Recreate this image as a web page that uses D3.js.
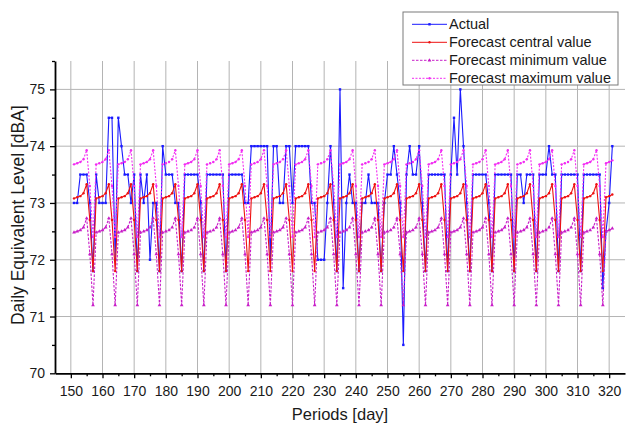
<!DOCTYPE html>
<html lang="en">
<head>
    <meta charset="UTF-8">
    <title></title>
    <style type="text/css">
        html, body { padding:0; margin:0; background:#fff; }
        text { font-family: "Liberation Sans", Arial, sans-serif; }
    </style>
</head>
<body>
<script src="https://cdn.jsdelivr.net/npm/d3@7"></script>
<script>
    // days 151..321
    var days = d3.range(151, 322);

    var xTicks = [150, 160, 170, 180, 190, 200, 210, 220, 230, 240, 250, 260, 270, 280, 290, 300, 310, 320];
    var xMinor = [155, 165, 175, 185, 195, 205, 215, 225, 235, 245, 255, 265, 275, 285, 295, 305, 315];
    var yTicks = [70, 71, 72, 73, 74, 75];
    var yMinor = [70.5, 71.5, 72.5, 73.5, 74.5, 75.5];

    var actual = [
        73, 73, 73.5, 73.5, 73.5, 73, 71.8,
        73.5, 73, 73, 73, 74.5, 74.5, 72,
        74.5, 74, 73.5, 73.5, 73, 73.5, 71.8,
        73.5, 73, 73.5, 72, 73, 73, 71.8,
        74, 73.5, 73.5, 73.5, 73, 73, 71.8,
        73.5, 73.5, 73.5, 73.5, 73.5, 73, 71.8,
        73.5, 73.5, 73.5, 73.5, 73.5, 73.5, 71.8,
        73.5, 73.5, 73.5, 73.5, 73.5, 73, 73,
        74, 74, 74, 74, 74, 74, 72,
        74, 74, 73, 73, 74, 74, 73,
        74, 74, 74, 74, 74, 73, 73,
        72, 72, 72, 73, 74, 73, 71.8,
        75, 71.5, 73, 73.5, 73, 73, 71.8,
        73, 73, 73.5, 73, 73, 73, 71.8,
        73, 73.5, 73.5, 74, 73.5, 73, 70.5,
        73.5, 74, 73.5, 73.5, 74, 73, 71.8,
        73.5, 73.5, 73.5, 73.5, 73.5, 73.5, 71.8,
        73.5, 74.5, 73.5, 75, 74, 73, 71.8,
        73.5, 73.5, 73.5, 73.5, 73.5, 73, 71.8,
        73.5, 73.5, 73.5, 73.5, 73.5, 73.5, 71.8,
        73.5, 73.5, 73, 73.5, 73.5, 73.5, 71.8,
        73.5, 73.5, 73.5, 74, 73.5, 73.5, 71.8,
        73.5, 73.5, 73.5, 73.5, 73.5, 73.5, 71.8,
        73.5, 73.5, 73.5, 73.5, 73.5, 73.5, 71.5,
        72.5, 73, 74
    ];

    var central = [
        73.08, 73.1, 73.12, 73.17, 73.33, 72.7, 71.8,
        73.08, 73.1, 73.12, 73.17, 73.33, 72.7, 71.8,
        73.08, 73.1, 73.12, 73.17, 73.33, 72.7, 71.8,
        73.08, 73.1, 73.12, 73.17, 73.33, 72.7, 71.8,
        73.08, 73.1, 73.12, 73.17, 73.33, 72.7, 71.8,
        73.08, 73.1, 73.12, 73.17, 73.33, 72.7, 71.8,
        73.08, 73.1, 73.12, 73.17, 73.33, 72.7, 71.8,
        73.08, 73.1, 73.12, 73.17, 73.33, 72.7, 71.8,
        73.08, 73.1, 73.12, 73.17, 73.33, 72.7, 71.8,
        73.08, 73.1, 73.12, 73.17, 73.33, 72.7, 71.8,
        73.08, 73.1, 73.12, 73.17, 73.33, 72.7, 71.8,
        73.08, 73.1, 73.12, 73.17, 73.33, 72.7, 71.8,
        73.08, 73.1, 73.12, 73.17, 73.33, 72.7, 71.8,
        73.08, 73.1, 73.12, 73.17, 73.33, 72.7, 71.8,
        73.08, 73.1, 73.12, 73.17, 73.33, 72.7, 71.8,
        73.08, 73.1, 73.12, 73.17, 73.33, 72.7, 71.8,
        73.08, 73.1, 73.12, 73.17, 73.33, 72.7, 71.8,
        73.08, 73.1, 73.12, 73.17, 73.33, 72.7, 71.8,
        73.08, 73.1, 73.12, 73.17, 73.33, 72.7, 71.8,
        73.08, 73.1, 73.12, 73.17, 73.33, 72.7, 71.8,
        73.08, 73.1, 73.12, 73.17, 73.33, 72.7, 71.8,
        73.08, 73.1, 73.12, 73.17, 73.33, 72.7, 71.8,
        73.08, 73.1, 73.12, 73.17, 73.33, 72.7, 71.8,
        73.08, 73.1, 73.12, 73.17, 73.33, 72.7, 71.8,
        73.1, 73.12, 73.15
    ];

    var minimum = [
        72.48, 72.5, 72.52, 72.57, 72.73, 72.1, 71.2,
        72.48, 72.5, 72.52, 72.57, 72.73, 72.1, 71.2,
        72.48, 72.5, 72.52, 72.57, 72.73, 72.1, 71.2,
        72.48, 72.5, 72.52, 72.57, 72.73, 72.1, 71.2,
        72.48, 72.5, 72.52, 72.57, 72.73, 72.1, 71.2,
        72.48, 72.5, 72.52, 72.57, 72.73, 72.1, 71.2,
        72.48, 72.5, 72.52, 72.57, 72.73, 72.1, 71.2,
        72.48, 72.5, 72.52, 72.57, 72.73, 72.1, 71.2,
        72.48, 72.5, 72.52, 72.57, 72.73, 72.1, 71.2,
        72.48, 72.5, 72.52, 72.57, 72.73, 72.1, 71.2,
        72.48, 72.5, 72.52, 72.57, 72.73, 72.1, 71.2,
        72.48, 72.5, 72.52, 72.57, 72.73, 72.1, 71.2,
        72.48, 72.5, 72.52, 72.57, 72.73, 72.1, 71.2,
        72.48, 72.5, 72.52, 72.57, 72.73, 72.1, 71.2,
        72.48, 72.5, 72.52, 72.57, 72.73, 72.1, 71.2,
        72.48, 72.5, 72.52, 72.57, 72.73, 72.1, 71.2,
        72.48, 72.5, 72.52, 72.57, 72.73, 72.1, 71.2,
        72.48, 72.5, 72.52, 72.57, 72.73, 72.1, 71.2,
        72.48, 72.5, 72.52, 72.57, 72.73, 72.1, 71.2,
        72.48, 72.5, 72.52, 72.57, 72.73, 72.1, 71.2,
        72.48, 72.5, 72.52, 72.57, 72.73, 72.1, 71.2,
        72.48, 72.5, 72.52, 72.57, 72.73, 72.1, 71.2,
        72.48, 72.5, 72.52, 72.57, 72.73, 72.1, 71.2,
        72.48, 72.5, 72.52, 72.57, 72.73, 72.1, 71.2,
        72.5, 72.52, 72.55
    ];

    var maximum = [
        73.68, 73.7, 73.72, 73.77, 73.93, 73.3, 72.4,
        73.68, 73.7, 73.72, 73.77, 73.93, 73.3, 72.4,
        73.68, 73.7, 73.72, 73.77, 73.93, 73.3, 72.4,
        73.68, 73.7, 73.72, 73.77, 73.93, 73.3, 72.4,
        73.68, 73.7, 73.72, 73.77, 73.93, 73.3, 72.4,
        73.68, 73.7, 73.72, 73.77, 73.93, 73.3, 72.4,
        73.68, 73.7, 73.72, 73.77, 73.93, 73.3, 72.4,
        73.68, 73.7, 73.72, 73.77, 73.93, 73.3, 72.4,
        73.68, 73.7, 73.72, 73.77, 73.93, 73.3, 72.4,
        73.68, 73.7, 73.72, 73.77, 73.93, 73.3, 72.4,
        73.68, 73.7, 73.72, 73.77, 73.93, 73.3, 72.4,
        73.68, 73.7, 73.72, 73.77, 73.93, 73.3, 72.4,
        73.68, 73.7, 73.72, 73.77, 73.93, 73.3, 72.4,
        73.68, 73.7, 73.72, 73.77, 73.93, 73.3, 72.4,
        73.68, 73.7, 73.72, 73.77, 73.93, 73.3, 72.4,
        73.68, 73.7, 73.72, 73.77, 73.93, 73.3, 72.4,
        73.68, 73.7, 73.72, 73.77, 73.93, 73.3, 72.4,
        73.68, 73.7, 73.72, 73.77, 73.93, 73.3, 72.4,
        73.68, 73.7, 73.72, 73.77, 73.93, 73.3, 72.4,
        73.68, 73.7, 73.72, 73.77, 73.93, 73.3, 72.4,
        73.68, 73.7, 73.72, 73.77, 73.93, 73.3, 72.4,
        73.68, 73.7, 73.72, 73.77, 73.93, 73.3, 72.4,
        73.68, 73.7, 73.72, 73.77, 73.93, 73.3, 72.4,
        73.68, 73.7, 73.72, 73.77, 73.93, 73.3, 72.4,
        73.7, 73.72, 73.75
    ];

    var seriesNames = ['Actual', 'Forecast central value', 'Forecast minimum value', 'Forecast maximum value'];

    var chart = {};

    chart.options = {
        width: 627,
        height: 425,
        left: 55,
        right: 625,
        top: 61,
        bottom: 373.3,
        styles: [
            { color: '#1a1aff', dash: null, marker: 'square' },
            { color: '#ee1111', dash: null, marker: 'circle' },
            { color: '#c81ec8', dash: '2.5,1.5', marker: 'triangle' },
            { color: '#f22cf2', dash: '2,1.5', marker: 'circle' }
        ]
    };

    chart.init = function() {
        var o = this.options;
        this.svg = d3.select('body').append('svg')
            .attr('width', o.width)
            .attr('height', o.height);

        this.x = d3.scaleLinear().domain([145, 325]).range([o.left, o.right]);
        this.y = d3.scaleLinear().domain([70, 75.5]).range([o.bottom, o.top]);

        this.renderGrid();
        this.renderSeries();
        this.renderAxes();
        this.renderLegend();
    };

    chart.renderGrid = function() {
        var o = this.options, x = this.x, y = this.y;
        var g = this.svg.append('g').attr('class', 'grid');
        g.selectAll('.vgrid').data(xTicks).enter().append('line')
            .attr('x1', function(d) { return x(d); })
            .attr('x2', function(d) { return x(d); })
            .attr('y1', o.top).attr('y2', o.bottom)
            .attr('stroke', '#b4b4b4').attr('stroke-width', 1);
        g.selectAll('.hgrid').data(yTicks.slice(1)).enter().append('line')
            .attr('y1', function(d) { return y(d); })
            .attr('y2', function(d) { return y(d); })
            .attr('x1', o.left).attr('x2', o.right)
            .attr('stroke', '#b4b4b4').attr('stroke-width', 1);
    };

    chart.renderSeries = function() {
        var x = this.x, y = this.y, svg = this.svg;
        var all = [actual, central, minimum, maximum];
        var line = d3.line()
            .x(function(d, i) { return x(days[i]); })
            .y(function(d) { return y(d); });

        all.forEach(function(vals, k) {
            var st = chart.options.styles[k];
            var g = svg.append('g').attr('class', 'series-' + k);
            g.append('path')
                .datum(vals)
                .attr('d', line)
                .attr('fill', 'none')
                .attr('stroke', st.color)
                .attr('stroke-width', 1.1)
                .attr('stroke-dasharray', st.dash);
            chart.drawMarkers(g, vals.map(function(v, i) { return [x(days[i]), y(v)]; }), st);
        });
    };

    chart.drawMarkers = function(g, pts, st) {
        if (st.marker === 'square') {
            g.selectAll('rect').data(pts).enter().append('rect')
                .attr('x', function(p) { return p[0] - 1.2; })
                .attr('y', function(p) { return p[1] - 1.2; })
                .attr('width', 2.4).attr('height', 2.4)
                .attr('fill', st.color);
        } else if (st.marker === 'triangle') {
            var tri = d3.symbol().type(d3.symbolTriangle).size(6);
            g.selectAll('path.m').data(pts).enter().append('path')
                .attr('class', 'm')
                .attr('d', tri)
                .attr('transform', function(p) { return 'translate(' + p[0] + ',' + p[1] + ')'; })
                .attr('fill', st.color);
        } else {
            g.selectAll('circle').data(pts).enter().append('circle')
                .attr('cx', function(p) { return p[0]; })
                .attr('cy', function(p) { return p[1]; })
                .attr('r', 1.2)
                .attr('fill', st.color);
        }
    };

    chart.renderAxes = function() {
        var o = this.options, x = this.x, y = this.y, svg = this.svg;

        // minor ticks first, then the main axes on top
        svg.append('g')
            .attr('transform', 'translate(0,' + o.bottom + ')')
            .call(d3.axisBottom(x).tickValues(xMinor).tickSize(3).tickSizeOuter(0).tickFormat(''))
            .call(function(g) { g.select('.domain').remove(); });
        svg.append('g')
            .attr('transform', 'translate(' + o.left + ',0)')
            .call(d3.axisLeft(y).tickValues(yMinor).tickSize(3).tickSizeOuter(0).tickFormat(''))
            .call(function(g) { g.select('.domain').remove(); });

        var xAxis = svg.append('g')
            .attr('class', 'x-axis')
            .attr('transform', 'translate(0,' + o.bottom + ')')
            .call(d3.axisBottom(x).tickValues(xTicks).tickSize(5).tickSizeOuter(0).tickPadding(8).tickFormat(d3.format('d')));
        var yAxis = svg.append('g')
            .attr('class', 'y-axis')
            .attr('transform', 'translate(' + o.left + ',0)')
            .call(d3.axisLeft(y).tickValues(yTicks).tickSize(5).tickSizeOuter(0).tickPadding(5).tickFormat(d3.format('d')));

        svg.selectAll('.tick line').attr('stroke', '#000').attr('stroke-width', 1.3);
        [xAxis, yAxis].forEach(function(a) {
            a.select('.domain').attr('stroke', '#000').attr('stroke-width', 1.8);
            a.selectAll('text')
                .attr('font-family', '"Liberation Sans", Arial, sans-serif')
                .attr('font-size', 14)
                .attr('fill', '#1a1a1a');
        });

        svg.append('text')
            .attr('x', (o.left + o.right) / 2)
            .attr('y', 420)
            .attr('text-anchor', 'middle')
            .attr('font-size', 16.5)
            .attr('fill', '#1a1a1a')
            .text('Periods [day]');

        svg.append('text')
            .attr('transform', 'translate(23.5,' + ((o.top + o.bottom) / 2 - 2) + ') rotate(-90)')
            .attr('text-anchor', 'middle')
            .attr('font-size', 17.5)
            .attr('fill', '#1a1a1a')
            .text('Daily Equivalent Level [dBA]');
    };

    chart.renderLegend = function() {
        var svg = this.svg;
        var lg = svg.append('g').attr('class', 'legend').attr('transform', 'translate(403,12)');
        lg.append('rect')
            .attr('width', 215).attr('height', 73)
            .attr('fill', '#fff')
            .attr('stroke', '#7a7a7a').attr('stroke-width', 1);

        seriesNames.forEach(function(name, k) {
            var st = chart.options.styles[k];
            var cy = 12.3 + k * 18;
            var row = lg.append('g');
            row.append('line')
                .attr('x1', 9).attr('x2', 44)
                .attr('y1', cy).attr('y2', cy)
                .attr('stroke', st.color).attr('stroke-width', 1)
                .attr('stroke-dasharray', st.dash);
            chart.drawMarkers(row, [[26.5, cy]], st);
            row.append('text')
                .attr('x', 46).attr('y', cy + 5)
                .attr('font-size', 14.5)
                .attr('fill', '#1a1a1a')
                .text(name);
        });
    };

    chart.init();
</script>
</body>
</html>
